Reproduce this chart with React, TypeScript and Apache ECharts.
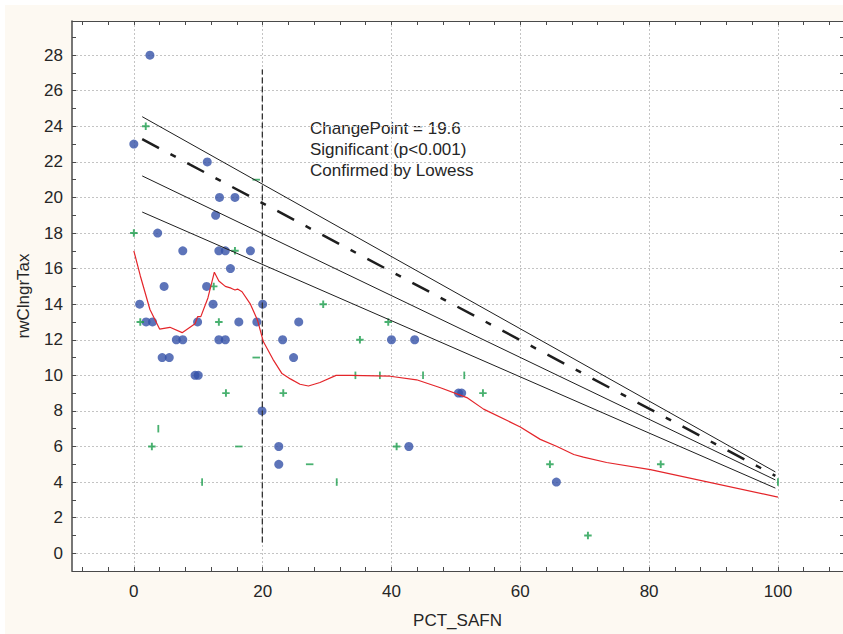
import React, { useEffect, useRef } from 'react';
import * as echarts from 'echarts';

// ---- axis ticks / labels ----
const xTickLabels = [0, 20, 40, 60, 80, 100];
const xMinorTicks = [-8, -4, 0, 4, 8, 12, 16, 20, 24, 28, 32, 36, 40, 44, 48, 52, 56, 60, 64, 68, 72, 76, 80, 84, 88, 92, 96, 100, 104, 108];
const yTickLabels = [0, 2, 4, 6, 8, 10, 12, 14, 16, 18, 20, 22, 24, 26, 28];
const yMinorTicks = [-1, 0, 1, 2, 3, 4, 5, 6, 7, 8, 9, 10, 11, 12, 13, 14, 15, 16, 17, 18, 19, 20, 21, 22, 23, 24, 25, 26, 27, 28, 29];
const X_MIN = -9.6;
const X_MAX = 110.1;
const Y_MIN = -1;
const Y_MAX = 29.92;

// ---- observed points (PCT_SAFN, rwClngrTax) ----
const bluePoints: [number, number][] = [
  [0, 23], [2.5, 28], [0.9, 14], [1.9, 13], [2.9, 13], [3.7, 18], [4.7, 15], [4.4, 11], [5.5, 11],
  [6.6, 12], [7.6, 12], [7.6, 17], [9.5, 10], [10.0, 10], [9.9, 13], [11.3, 15], [11.4, 22], [12.3, 14],
  [12.7, 19], [13.3, 20], [13.2, 17], [14.2, 17], [13.2, 12], [14.2, 12], [15.0, 16], [15.7, 20], [16.3, 13],
  [18.1, 17], [19.1, 13], [20.0, 14], [19.9, 8], [23.1, 12], [22.5, 6], [22.5, 5], [24.8, 11], [25.6, 13],
  [40.0, 12], [43.6, 12], [42.7, 6], [50.4, 9], [50.9, 9], [65.6, 4],
];
const greenPlus: [number, number][] = [
  [1.85, 24], [0, 18], [1.0, 13], [2.8, 6], [15.7, 17], [12.4, 15], [13.2, 13], [14.3, 9], [23.2, 9],
  [29.4, 14], [35.1, 12], [39.5, 13], [40.8, 6], [54.2, 9], [64.6, 5], [81.8, 5], [70.5, 1],
];
const greenDash: [number, number][] = [
  [19.0, 21], [19.0, 11], [16.3, 6], [27.3, 5],
];
const greenBar: [number, number][] = [
  [3.8, 7], [10.6, 4], [31.5, 4], [34.4, 10], [38.2, 10], [44.9, 10], [51.3, 10], [100, 4],
];

// ---- fitted lines ----
const upperBand: [number, number][] = [[1.3, 24.54], [99.6, 4.57]];
const fitLine: [number, number][] = [[1.3, 23.28], [99.6, 4.35]];
const midBand: [number, number][] = [[1.3, 21.21], [99.6, 4.12]];
const lowerBand: [number, number][] = [[1.3, 19.18], [99.6, 3.66]];
const changePointLine: [number, number][] = [[19.95, 0.6], [19.95, 27.2]];
const lowess: [number, number][] = [
  [0.0, 17.0], [1.0, 15.6], [2.5, 13.7], [4.0, 12.6], [5.6, 12.7], [7.5, 12.4], [9.5, 12.9], [9.9, 13.3],
  [10.4, 13.3], [11.5, 14.35], [12.5, 15.8], [13.2, 15.3], [14.2, 15.0], [15.1, 14.9], [15.7, 14.8],
  [16.1, 14.85], [16.8, 14.7], [18.1, 14.0], [19.2, 13.1], [20.1, 11.9], [21.6, 10.9], [23.0, 10.1],
  [24.3, 9.8], [25.8, 9.5], [27.1, 9.4], [28.9, 9.6], [31.4, 10.0], [33.6, 10.0], [39.8, 9.95],
  [43.9, 9.75], [47.6, 9.3], [51.7, 8.75], [54.3, 8.1], [60.0, 7.1], [63.1, 6.4], [65.7, 6.0],
  [68.3, 5.55], [69.8, 5.4], [73.4, 5.1], [80.2, 4.7], [100, 3.15],
];
const annotation = ['ChangePoint = 19.6', 'Significant (p<0.001)', 'Confirmed by Lowess'];

const PLUS = 'path://M5.2,0H8.8V5.2H14V8.8H8.8V14H5.2V8.8H0V5.2H5.2Z';

export default function App() {
  const ref = useRef<HTMLDivElement>(null);
  useEffect(() => {
    if (!ref.current) return;
    const chart = echarts.init(ref.current, null, { renderer: 'svg' });
    const font = '"Liberation Sans", Arial, sans-serif';
    const txt = '#262626';
    const axisCol = '#4a4a4a';
    const gridLine = { show: true, lineStyle: { color: '#c4c4c4', type: [2, 2], width: 1 } };
    const green = '#1c9e4c';
    const lineSeries = (data: [number, number][], style: any) => ({
      type: 'line', data, xAxisIndex: 0, yAxisIndex: 0, symbol: 'none', showSymbol: false,
      silent: true, lineStyle: style, z: 4,
    });
    chart.setOption({
      animation: false,
      backgroundColor: '#fdf9f2',
      textStyle: { fontFamily: font },
      grid: { left: 67, right: 0, top: 16, bottom: 61, show: true, backgroundColor: '#ffffff', borderWidth: 0 },
      xAxis: [
        {
          type: 'value', min: X_MIN, max: X_MAX, position: 'bottom',
          name: 'PCT_SAFN', nameLocation: 'middle', nameGap: 41,
          nameTextStyle: { fontSize: 17, color: txt, fontFamily: font },
          axisLine: { show: true, onZero: false, lineStyle: { color: axisCol, width: 1 } },
          axisTick: { show: true, inside: true, length: 4, customValues: xMinorTicks, lineStyle: { color: axisCol } },
          axisLabel: { show: true, customValues: xTickLabels, fontSize: 17, color: txt, margin: 12, fontFamily: font },
          splitLine: { show: false },
        },
        {
          type: 'value', min: X_MIN, max: X_MAX, position: 'bottom',
          axisLine: { show: false }, axisTick: { show: false, customValues: xTickLabels },
          axisLabel: { show: false }, splitLine: gridLine,
        },
        {
          type: 'value', min: X_MIN, max: X_MAX, position: 'top',
          axisLine: { show: true, onZero: false, lineStyle: { color: axisCol, width: 1 } },
          axisTick: { show: true, inside: true, length: 4, customValues: xMinorTicks, lineStyle: { color: axisCol } },
          axisLabel: { show: false }, splitLine: { show: false },
        },
      ],
      yAxis: [
        {
          type: 'value', min: Y_MIN, max: Y_MAX, position: 'left',
          name: 'rwClngrTax', nameLocation: 'middle', nameGap: 40,
          nameTextStyle: { fontSize: 17, color: txt, fontFamily: font },
          axisLine: { show: true, onZero: false, lineStyle: { color: axisCol, width: 1.5 } },
          axisTick: { show: true, inside: true, length: 4, customValues: yMinorTicks, lineStyle: { color: axisCol } },
          axisLabel: { show: true, customValues: yTickLabels, fontSize: 17, color: txt, margin: 9, fontFamily: font },
          splitLine: { show: false },
        },
        {
          type: 'value', min: Y_MIN, max: Y_MAX, position: 'left',
          axisLine: { show: false }, axisTick: { show: false, customValues: yTickLabels },
          axisLabel: { show: false }, splitLine: gridLine,
        },
        {
          type: 'value', min: Y_MIN, max: Y_MAX, position: 'right',
          axisLine: { show: true, onZero: false, lineStyle: { color: axisCol, width: 1 } },
          axisTick: { show: true, inside: true, length: 3, customValues: yMinorTicks, lineStyle: { color: axisCol } },
          axisLabel: { show: false }, splitLine: { show: false },
        },
      ],
      series: [
        {
          type: 'scatter', data: bluePoints, symbol: 'circle', symbolSize: 9,
          itemStyle: { color: '#3551a7' }, silent: true, z: 3,
        },
        { type: 'scatter', data: greenPlus, symbol: PLUS, symbolSize: 7.5, itemStyle: { color: green }, silent: true, z: 3 },
        { type: 'scatter', data: greenDash, symbol: 'rect', symbolSize: [7.5, 1.8], itemStyle: { color: green }, silent: true, z: 3 },
        { type: 'scatter', data: greenBar, symbol: 'rect', symbolSize: [1.8, 7.5], itemStyle: { color: green }, silent: true, z: 3 },
        lineSeries(upperBand, { color: '#1e1e1e', width: 1 }),
        lineSeries(midBand, { color: '#1e1e1e', width: 1 }),
        lineSeries(lowerBand, { color: '#1e1e1e', width: 1 }),
        lineSeries(fitLine, { color: '#1e1e1e', width: 2.5, type: [19, 13, 6, 13] }),
        lineSeries(changePointLine, { color: '#333333', width: 1.3, type: [6, 3] }),
        lineSeries(lowess, { color: '#e4252a', width: 1.2 }),
      ],
      graphic: [
        {
          type: 'text', left: 305, top: 112.5, silent: true,
          style: {
            text: annotation.join('\n'), fontSize: 17, lineHeight: 21.3, fill: txt, fontFamily: font,
          },
        },
      ],
    });
    return () => chart.dispose();
  }, []);
  return (
    <div style={{ position: 'absolute', left: 0, top: 0, width: 843, height: 634, background: '#ffffff' }}>
      <div ref={ref} style={{ position: 'absolute', left: 5, top: 5, width: 838, height: 629 }} />
    </div>
  );
}
